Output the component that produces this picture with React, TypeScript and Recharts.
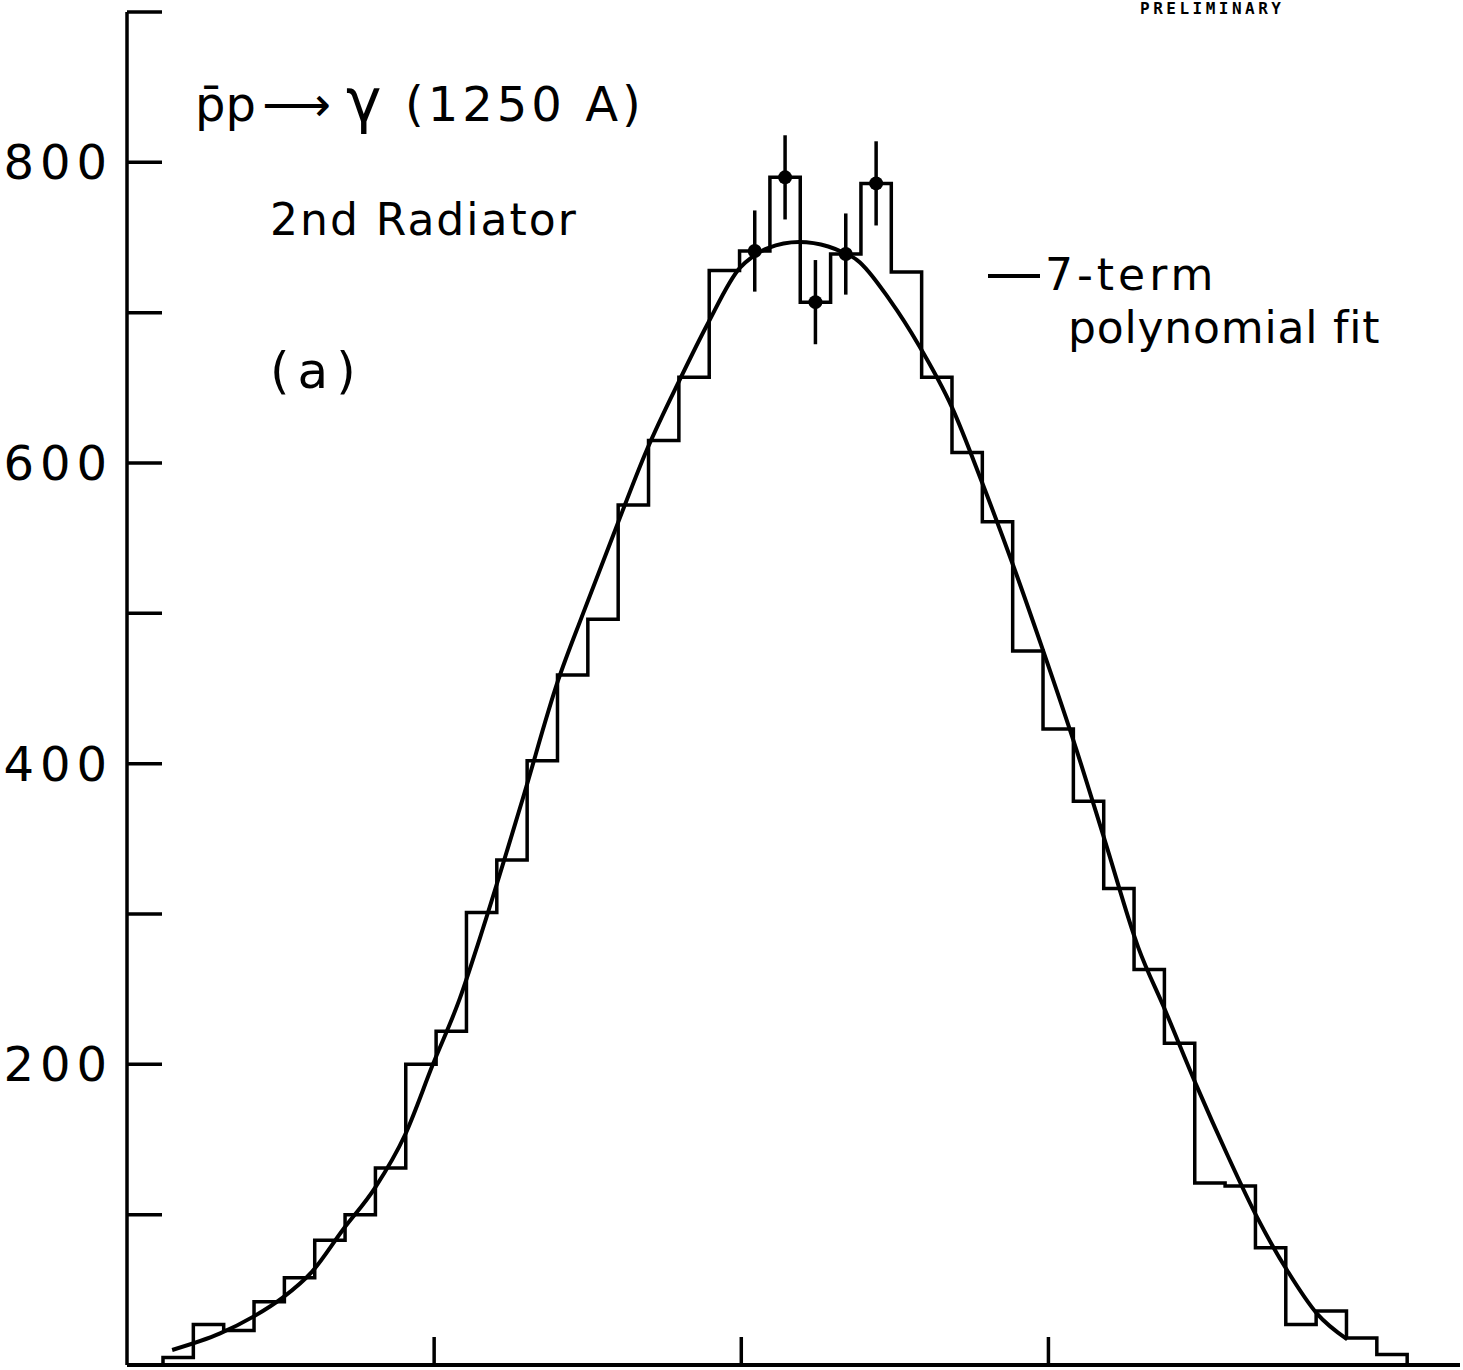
import { ComposedChart, Line, Scatter, ErrorBar, XAxis, YAxis, ReferenceLine } from "recharts";

// histogram bin contents, left to right (41 bins)
const COUNTS = [
  5, 27, 23, 42, 58, 83, 100, 131, 200, 222,
  301, 336, 402, 459, 496, 572, 615, 657, 728, 741,
  790, 707, 739, 786, 727, 657, 607, 561, 475, 423,
  375, 317, 263, 214, 121, 119, 78, 27, 36, 18,
  7,
];

// bins drawn with a point and error bar
const ERR_BINS = [19, 20, 21, 22, 23];
const ERR_SIZE = [27, 28, 28, 27, 28];

// 7-term polynomial fit
const FIT_X = [
  1.47, 3.03, 4.1, 5.08, 6.02, 7.03, 8.08, 9.05, 9.96, 10.84,
  11.49, 12.89, 14.03, 14.85, 15.83, 16.93, 18.01, 18.89, 19.96, 20.35,
  20.87, 21.88, 22.83, 23.32, 23.77, 24.85, 25.79, 26.86, 27.84, 28.85,
  29.83, 30.9, 31.85, 32.92, 33.8, 34.84, 35.82, 36.8, 37.77, 38.75,
  39.73,
];
const FIT_Y = [
  10, 21, 32, 45, 62, 90, 118, 153, 200, 244,
  284, 377, 455, 500, 552, 609, 656, 692, 730, 737,
  743, 747, 744, 740, 735, 708, 678, 637, 587, 532,
  475, 410, 348, 278, 236, 185, 140, 98, 63, 34,
  17,
];

const Y_TICKS = [100, 200, 300, 400, 500, 600, 700, 800, 900];
const Y_LABELS = [200, 400, 600, 800];
const X_TICKS = [10, 20, 30];

const BIN_START = 1.172;
const BIN_WIDTH = 0.988;

const histData = [
  { x: BIN_START, y: 0 },
  ...COUNTS.map((c, i) => ({ x: BIN_START + i * BIN_WIDTH, y: c })),
  { x: BIN_START + COUNTS.length * BIN_WIDTH, y: COUNTS[COUNTS.length - 1] },
  { x: BIN_START + COUNTS.length * BIN_WIDTH, y: 0 },
];

const errData = ERR_BINS.map((b, i) => ({
  x: BIN_START + (b + 0.5) * BIN_WIDTH,
  y: COUNTS[b],
  err: ERR_SIZE[i],
}));

const fitData = FIT_X.map((x, i) => ({ x, y: FIT_Y[i] }));

const FONT = "'DejaVu Sans', sans-serif";

function YTick(props: any) {
  const { x, y, payload } = props;
  return (
    <g>
      <line x1={x} x2={x + 35} y1={y} y2={y} stroke="#000" strokeWidth={3.5} />
      {Y_LABELS.includes(payload.value) && (
        <text x={x - 14} y={y + 17} textAnchor="end" fontSize={48} fontFamily={FONT} letterSpacing={6} fill="#000">
          {payload.value}
        </text>
      )}
    </g>
  );
}

function XTick(props: any) {
  const { x, y } = props;
  return <line x1={x} x2={x} y1={y} y2={y - 28} stroke="#000" strokeWidth={3.5} />;
}

function Dot(props: any) {
  return <circle cx={props.cx} cy={props.cy} r={7} fill="#000" />;
}

export default function App() {
  return (
    <div style={{ position: "absolute", left: 0, top: 0, width: 1463, height: 1370, background: "#fff", overflow: "hidden" }}>
      <ComposedChart width={1463} height={1370} margin={{ top: 12, right: 3, bottom: 3, left: 0 }}>
        <XAxis
          dataKey="x"
          type="number"
          domain={[0, 43.4]}
          ticks={X_TICKS}
          allowDataOverflow
          height={2}
          tickSize={0}
          tickMargin={0}
          tick={<XTick />}
          axisLine={{ stroke: "#000", strokeWidth: 4 }}
        />
        <YAxis
          type="number"
          domain={[0, 900]}
          ticks={Y_TICKS}
          allowDataOverflow
          width={127}
          tickSize={0}
          tickMargin={0}
          tick={<YTick />}
          axisLine={{ stroke: "#000", strokeWidth: 3.5 }}
        />
        <ReferenceLine y={0} stroke="#000" strokeWidth={4} ifOverflow="visible" />
        <Line
          data={histData}
          dataKey="y"
          type="stepAfter"
          stroke="#000"
          strokeWidth={3.5}
          dot={false}
          isAnimationActive={false}
        />
        <Line
          data={fitData}
          dataKey="y"
          type="monotone"
          stroke="#000"
          strokeWidth={4}
          dot={false}
          isAnimationActive={false}
        />
        <Scatter data={errData} dataKey="y" shape={<Dot />} isAnimationActive={false}>
          <ErrorBar dataKey="err" direction="y" width={0} stroke="#000" strokeWidth={3.5} />
        </Scatter>
      </ComposedChart>
      <svg width={1463} height={1370} style={{ position: "absolute", left: 0, top: 0, pointerEvents: "none" }}>
        <text x={1140} y={14} fontSize={16} fontFamily="'DejaVu Sans Mono', monospace" fontWeight="bold" letterSpacing={3.5} fill="#000">
          PRELIMINARY
        </text>
        <text y={121} fontSize={48} fontFamily={FONT} fill="#000">
          <tspan x={195}>{"p\u0304p"}</tspan>
          <tspan x={262}>{"\u27f6"}</tspan>
          <tspan x={346} fontSize={60}>{"\u03b3"}</tspan>
          <tspan x={405} letterSpacing={4}>(1250 A)</tspan>
        </text>
        <text x={270} y={235} fontSize={44} fontFamily={FONT} letterSpacing={2} fill="#000">
          2nd Radiator
        </text>
        <text x={270} y={388} fontSize={50} fontFamily={FONT} letterSpacing={8} fill="#000">
          (a)
        </text>
        <line x1={988} x2={1040} y1={276} y2={276} stroke="#000" strokeWidth={4} />
        <text x={1045} y={290} fontSize={44} fontFamily={FONT} letterSpacing={4} fill="#000">
          7-term
        </text>
        <text x={1068} y={343} fontSize={44} fontFamily={FONT} letterSpacing={0.8} fill="#000">
          polynomial fit
        </text>
      </svg>
    </div>
  );
}
